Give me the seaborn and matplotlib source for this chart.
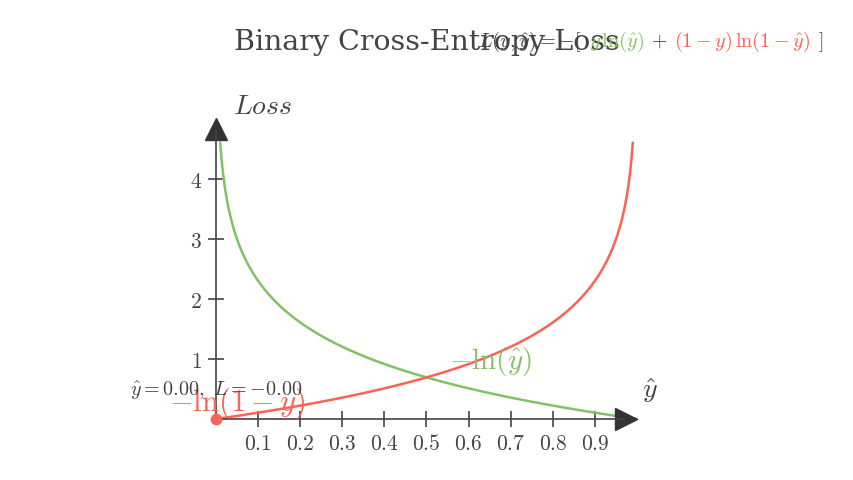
import numpy as np
import pandas as pd
import matplotlib
matplotlib.use("Agg")
import matplotlib.pyplot as plt
import seaborn as sns
from matplotlib.transforms import IdentityTransform

# data
x_ticks = [0.1, 0.2, 0.3, 0.4, 0.5, 0.6, 0.7, 0.8, 0.9]
y_ticks = [1, 2, 3, 4]
y_hat_green = np.linspace(0.01, 1.0, 300)
y_hat_red = np.linspace(0.0, 0.99, 300)
loss_green = -np.log(y_hat_green)
loss_red = -np.log(1 - y_hat_red)
dot_x, dot_y = [0.0], [0.0]

GREEN = "#83C167"
RED = "#FC6255"
GREY = "#444444"

sns.set_theme(style="white")
plt.rcParams["font.family"] = ["DejaVu Serif"]
plt.rcParams["mathtext.fontset"] = "cm"

fig = plt.figure(figsize=(8.54, 4.8), dpi=100)
ax = fig.add_axes([0, 0, 1, 1])
ax.set_xlim(-216 / 421, (854 - 216) / 421)
ax.set_ylim(-61 / 60, (480 - 61) / 60)

df_g = pd.DataFrame({"x": y_hat_green, "y": loss_green})
df_r = pd.DataFrame({"x": y_hat_red, "y": loss_red})
sns.lineplot(data=df_g, x="x", y="y", ax=ax, color=GREEN, lw=1.8, sort=False)
sns.lineplot(data=df_r, x="x", y="y", ax=ax, color=RED, lw=1.8, sort=False)

# axes as spines through origin
for s in ["top", "right"]:
    ax.spines[s].set_visible(False)
ax.spines["left"].set_position(("data", 0))
ax.spines["bottom"].set_position(("data", 0))
ax.spines["left"].set_bounds(0, 4.8)
ax.spines["bottom"].set_bounds(0, 0.97)
for s in ["left", "bottom"]:
    ax.spines[s].set_color(GREY)
    ax.spines[s].set_linewidth(1.2)
ax.set_xticks(x_ticks)
ax.set_yticks(y_ticks)
ax.set_xticklabels([f"${t}$" for t in x_ticks])
ax.set_yticklabels([f"${t}$" for t in y_ticks])
ax.tick_params(bottom=True, left=True, direction="inout", length=12, width=1.2,
               color=GREY, labelcolor=GREY, labelsize=15.5)
ax.tick_params(axis="x", pad=4)
ax.tick_params(axis="y", pad=4)
ax.set_xlabel("")
ax.set_ylabel("")
ax.patch.set_alpha(0)

# arrow heads
ax.plot([0.974], [0], marker=">", ms=16, color="#333333", clip_on=False)
ax.plot([0], [4.83], marker="^", ms=16, color="#333333", clip_on=False)

# dot at origin
ax.scatter(dot_x, dot_y, s=55, color=RED, zorder=5, clip_on=False)

# labels
ax.text(0.04, 5.2, r"$Loss$", fontsize=20, color=GREY, ha="left", va="center")
ax.text(1.031, 0.48, r"$\hat{y}$", fontsize=20, color=GREY, ha="center", va="center")
ax.text(0.651, 0.95, r"$-\ln(\hat{y})$", fontsize=21, color=GREEN, ha="center", va="center")
ax.text(0.05, 0.26, r"$-\ln(1-y)$", fontsize=22, color=RED, ha="center", va="center")
ax.text(0.0, 0.48, r"$\hat{y}=0.00,\ L=-0.00$", fontsize=14.5, color=GREY,
        ha="center", va="center")

# title
fig.text(427 / 854, 1 - 42 / 480, "Binary Cross-Entropy Loss", fontsize=20.5,
         color=GREY, ha="center", va="center")

# coloured formula
pieces = [(r"$L(y,\hat{y})=-[$", GREY), (r"$y\,\ln(\hat{y})$", GREEN),
          (r"$+$", GREY), (r"$(1-y)\,\ln(1-\hat{y})$", RED), (r"$]$", GREY)]
fig.canvas.draw()
renderer = fig.canvas.get_renderer()
xpos = 478
for txt, col in pieces:
    t = fig.text(xpos, 480 - 47, txt, fontsize=14.5, color=col, ha="left",
                 va="baseline", transform=IdentityTransform())
    w = t.get_window_extent(renderer).width
    xpos += w + 7

fig.savefig("out.png", dpi=100)
